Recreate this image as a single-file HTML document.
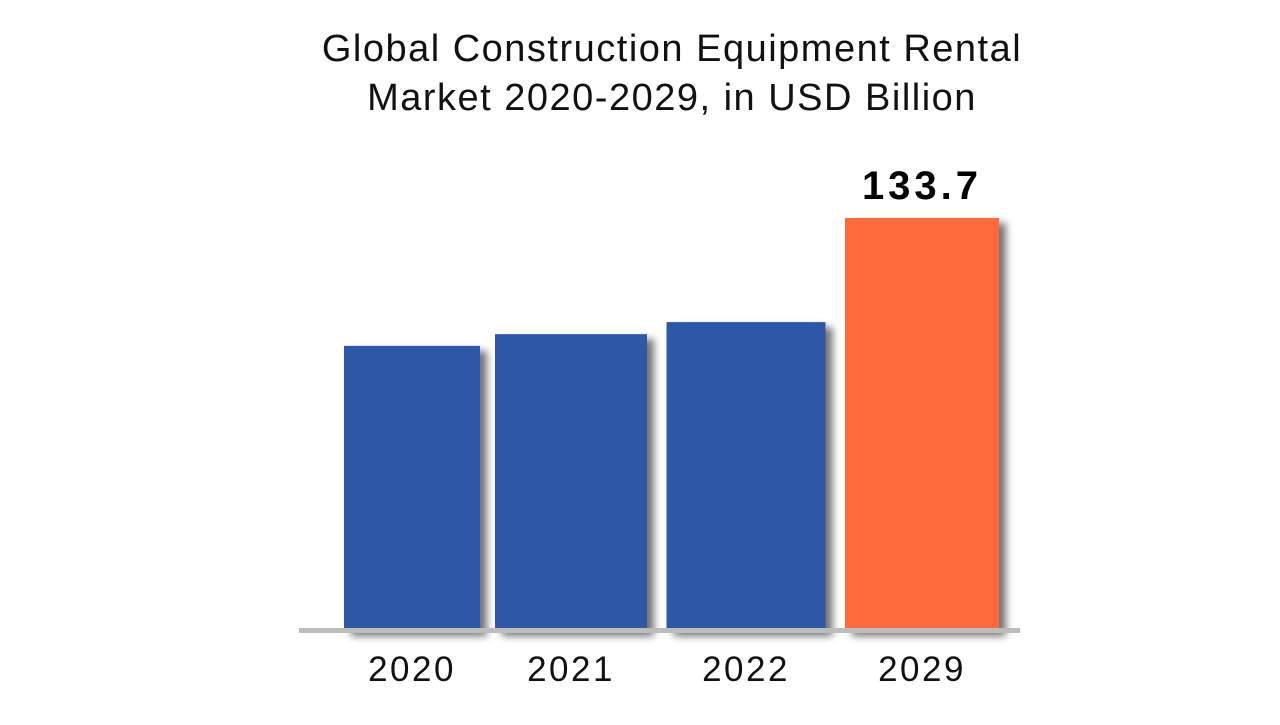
<!DOCTYPE html>
<html>
<head>
<meta charset="utf-8">
<style>
  html,body{margin:0;padding:0;background:#fff;}
  body{width:1280px;height:720px;overflow:hidden;font-family:"Liberation Sans",sans-serif;}
</style>
</head>
<body>
<svg id="chart" width="1280" height="720" viewBox="0 0 1280 720" xmlns="http://www.w3.org/2000/svg">
  <defs>
    <filter id="shadow" x="-20%" y="-20%" width="140%" height="140%">
      <feGaussianBlur in="SourceAlpha" stdDeviation="4"/>
      <feOffset dx="7" dy="5" result="b"/>
      <feComponentTransfer><feFuncA type="linear" slope="0.55"/></feComponentTransfer>
      <feMerge><feMergeNode/><feMergeNode in="SourceGraphic"/></feMerge>
    </filter>
  </defs>
  <text x="672" y="61" text-anchor="middle" font-size="38" letter-spacing="1.5" fill="#111">Global Construction Equipment Rental</text>
  <text x="672" y="110" text-anchor="middle" font-size="38" letter-spacing="1.5" fill="#111">Market 2020-2029, in USD Billion</text>
  <g id="bars"></g>
  <rect x="299" y="628" width="721" height="5" fill="#bdbdbd"/>
  <g id="labels"></g>
</svg>
<script>
const categories = ["2020", "2021", "2022", "2029"];
const values = [92.3, 96.1, 100.0, 133.7];
const colors = ["#2e58a6", "#2e58a6", "#2e58a6", "#ff6b3d"];
const valueLabels = ["", "", "", "133.7"];

const baseY = 631, plotTop = 218, maxV = 133.7;
function yScale(v){ return baseY - v / maxV * (baseY - plotTop); }
const centers = [412, 571, 746, 922];
const widths = [136, 152, 159, 154];
function xCenter(i){ return centers[i]; }
function bandWidth(i){ return widths[i]; }

const NS = "http://www.w3.org/2000/svg";
const gBars = document.getElementById("bars");
const gLab = document.getElementById("labels");
categories.forEach((c, i) => {
  const x = xCenter(i), w = bandWidth(i), y = yScale(values[i]);
  const r = document.createElementNS(NS, "rect");
  r.setAttribute("x", x - w/2);
  r.setAttribute("y", y);
  r.setAttribute("width", w);
  r.setAttribute("height", baseY - y);
  r.setAttribute("fill", colors[i]);
  r.setAttribute("filter", "url(#shadow)");
  
  
  gBars.appendChild(r);

  const t = document.createElementNS(NS, "text");
  t.setAttribute("x", x);
  t.setAttribute("y", 681);
  t.setAttribute("text-anchor", "middle");
  t.setAttribute("font-size", "35");
  t.setAttribute("letter-spacing", "2.5");
  t.setAttribute("fill", "#111");
  t.textContent = c;
  
  
  gLab.appendChild(t);

  if (valueLabels[i]) {
    const v = document.createElementNS(NS, "text");
    v.setAttribute("x", x);
    v.setAttribute("y", y - 19);
    v.setAttribute("text-anchor", "middle");
    v.setAttribute("font-size", "40");
    v.setAttribute("font-weight", "bold");
    v.setAttribute("letter-spacing", "4");
    v.setAttribute("fill", "#000");
    v.textContent = valueLabels[i];
    
    
    gLab.appendChild(v);
  }
});
</script>
</body>
</html>
